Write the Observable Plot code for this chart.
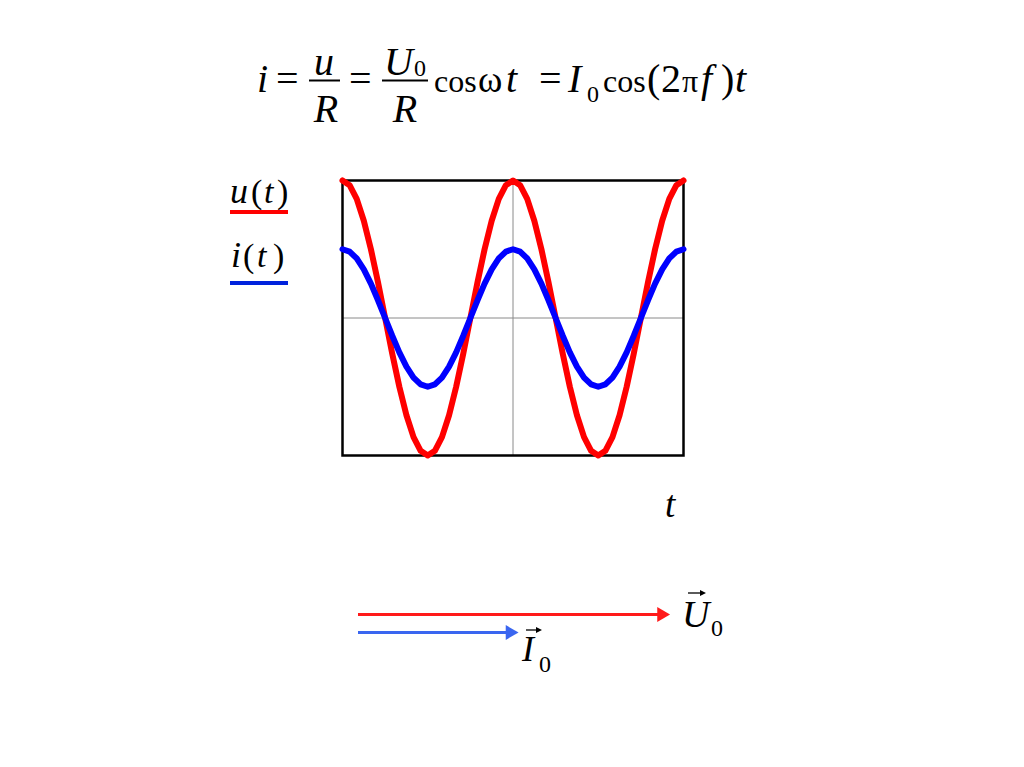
<!DOCTYPE html>
<html>
<head>
<meta charset="utf-8">
<script src="https://cdn.jsdelivr.net/npm/d3@7"></script>
<script src="https://cdn.jsdelivr.net/npm/@observablehq/plot@0.6"></script>
<style>
  html, body { margin: 0; padding: 0; background: #fff; }
  #page { position: relative; width: 1024px; height: 767px; overflow: hidden; background: #fff; }
  #page > svg { position: absolute; left: 0; top: 0; }
</style>
</head>
<body>
<div id="page"></div>
<script>
// Phase (degrees) of the samples across two periods
const phase = [0,15,30,45,60,75,90,105,120,135,150,165,180,195,210,225,240,255,270,285,300,315,330,345,
  360,375,390,405,420,435,450,465,480,495,510,525,540,555,570,585,600,615,630,645,660,675,690,705,720];
// Voltage u(t), in units of U0
const uValues = [1,0.966,0.866,0.707,0.5,0.259,0,-0.259,-0.5,-0.707,-0.866,-0.966,-1,-0.966,-0.866,-0.707,-0.5,-0.259,0,0.259,0.5,0.707,0.866,0.966,
  1,0.966,0.866,0.707,0.5,0.259,0,-0.259,-0.5,-0.707,-0.866,-0.966,-1,-0.966,-0.866,-0.707,-0.5,-0.259,0,0.259,0.5,0.707,0.866,0.966,1];
// Current i(t), in the same units (I0 = U0/R = 0.5)
const iValues = [0.5,0.483,0.433,0.354,0.25,0.129,0,-0.129,-0.25,-0.354,-0.433,-0.483,-0.5,-0.483,-0.433,-0.354,-0.25,-0.129,0,0.129,0.25,0.354,0.433,0.483,
  0.5,0.483,0.433,0.354,0.25,0.129,0,-0.129,-0.25,-0.354,-0.433,-0.483,-0.5,-0.483,-0.433,-0.354,-0.25,-0.129,0,0.129,0.25,0.354,0.433,0.483,0.5];
const seriesNames = ["u(t)", "i(t)"];
// Phasor amplitudes
const vectorNames = ["U0", "I0"];
const vectorAmps = [1, 0.5];

const rows = [];
phase.forEach((p, k) => {
  rows.push({phase: p, value: uValues[k], series: seriesNames[0]});
  rows.push({phase: p, value: iValues[k], series: seriesNames[1]});
});
const vectors = vectorNames.map((n, k) => ({name: n, amp: vectorAmps[k], row: k}));

const page = document.getElementById("page");

const chart = Plot.plot({
  width: 1024, height: 767,
  marginLeft: 342, marginRight: 341, marginTop: 180, marginBottom: 312,
  x: {domain: [0, 720], axis: null},
  y: {domain: [-1, 1], axis: null},
  color: {domain: seriesNames, range: ["#ff0000", "#0000ff"]},
  style: {background: "transparent", overflow: "visible"},
  marks: [
    Plot.ruleY([0], {stroke: "#8a8a8a", strokeWidth: 1}),
    Plot.ruleX([360], {stroke: "#8a8a8a", strokeWidth: 1}),
    Plot.frame({stroke: "#000", strokeWidth: 2.5}),
    Plot.line(rows, {x: "phase", y: "value", z: "series", stroke: "series", strokeWidth: 6, curve: "linear"})
  ]
});
page.appendChild(chart);

const arrows = Plot.plot({
  width: 1024, height: 767,
  x: {domain: [0, 1], range: [358, 661], axis: null},
  y: {domain: [0, 1], range: [614, 632], axis: null},
  color: {domain: vectorNames, range: ["#ff1a1a", "#3a66f0"]},
  style: {background: "transparent", overflow: "visible"},
  marks: [
    Plot.ruleY(vectors, {y: "row", x1: 0, x2: "amp", stroke: "name", strokeWidth: 3}),
    Plot.dot(vectors, {x: "amp", y: "row", symbol: "triangle", rotate: 90, fill: "name", stroke: "none", r: 5.5})
  ]
});
page.appendChild(arrows);

// Text layer: formula, legend, axis label, phasor labels
const ns = "http://www.w3.org/2000/svg";
const svg = document.createElementNS(ns, "svg");
svg.setAttribute("width", 1024); svg.setAttribute("height", 767);
page.appendChild(svg);
const SERIF = "'Liberation Serif', 'Times New Roman', serif";
function txt(s, x, y, size, italic, opts = {}) {
  const t = document.createElementNS(ns, "text");
  t.setAttribute("x", x); t.setAttribute("y", y);
  t.setAttribute("font-family", SERIF);
  t.style.fontFamily = SERIF;
  t.setAttribute("fill", "#000");
  if (italic) { t.setAttribute("font-style", "italic"); t.style.fontStyle = "italic"; }
  t.setAttribute("font-size", size);
  if (opts.anchor) t.setAttribute("text-anchor", opts.anchor);
  t.textContent = s;
  svg.appendChild(t);
}
function line(x1, y1, x2, y2, color, w) {
  const l = document.createElementNS(ns, "line");
  l.setAttribute("x1", x1); l.setAttribute("y1", y1); l.setAttribute("x2", x2); l.setAttribute("y2", y2);
  l.setAttribute("stroke", color); l.setAttribute("stroke-width", w);
  svg.appendChild(l);
}
function vecArrow(x1, x2, y) {
  line(x1, y, x2 - 3, y, "#000", 1.3);
  const p = document.createElementNS(ns, "path");
  p.setAttribute("d", `M${x2},${y} L${x2 - 6},${y - 3} L${x2 - 6},${y + 3} Z`);
  p.setAttribute("fill", "#000");
  svg.appendChild(p);
}

// Formula  i = u/R = U0/R cos ωt = I0 cos(2πf)t
txt("i", 257, 92, 40, true);
txt("=", 276, 92, 40, false);
txt("u", 324, 75, 40, true, {anchor: "middle"});
line(309, 80.5, 340, 80.5, "#000", 2);
txt("R", 326, 122, 40, true, {anchor: "middle"});
txt("=", 349, 92, 40, false);
txt("U", 384, 75, 40, true);
txt("0", 414, 76, 24, false);
line(382, 80.5, 428, 80.5, "#000", 2);
txt("R", 405, 122, 40, true, {anchor: "middle"});
txt("cos", 434, 92, 32, false);
txt("ω", 478, 92, 37, false);
txt("t", 506, 92, 40, true);
txt("=", 539, 92, 40, false);
txt("I", 568, 92, 40, true);
txt("0", 587, 102, 24, false);
txt("cos", 603, 92, 32, false);
txt("(", 647, 92, 40, false);
txt("2", 661, 92, 40, false);
txt("π", 682, 92, 32, false);
txt("f", 701, 92, 40, true);
txt(")", 721, 92, 40, false);
txt("t", 735, 92, 40, true);

// Legend
txt("u", 230, 203, 36, true);
txt("(", 251, 203, 34, false);
txt("t", 264, 203, 34, true);
txt(")", 277, 203, 34, false);
line(230, 212, 288, 212, "#ff0000", 4);
txt("i", 231, 267, 36, true);
txt("(", 243, 267, 34, false);
txt("t", 257, 267, 34, true);
txt(")", 273, 267, 34, false);
line(230, 283, 288, 283, "#0022dd", 4);

// Axis label
txt("t", 665, 517, 37, true);

// Phasor labels
txt("U", 682, 627, 38, true);
txt("0", 711, 636, 24, false);
vecArrow(688, 706, 593);
txt("I", 522, 661, 36, true);
txt("0", 539, 672, 24, false);
vecArrow(526, 542, 630);
</script>
</body>
</html>
